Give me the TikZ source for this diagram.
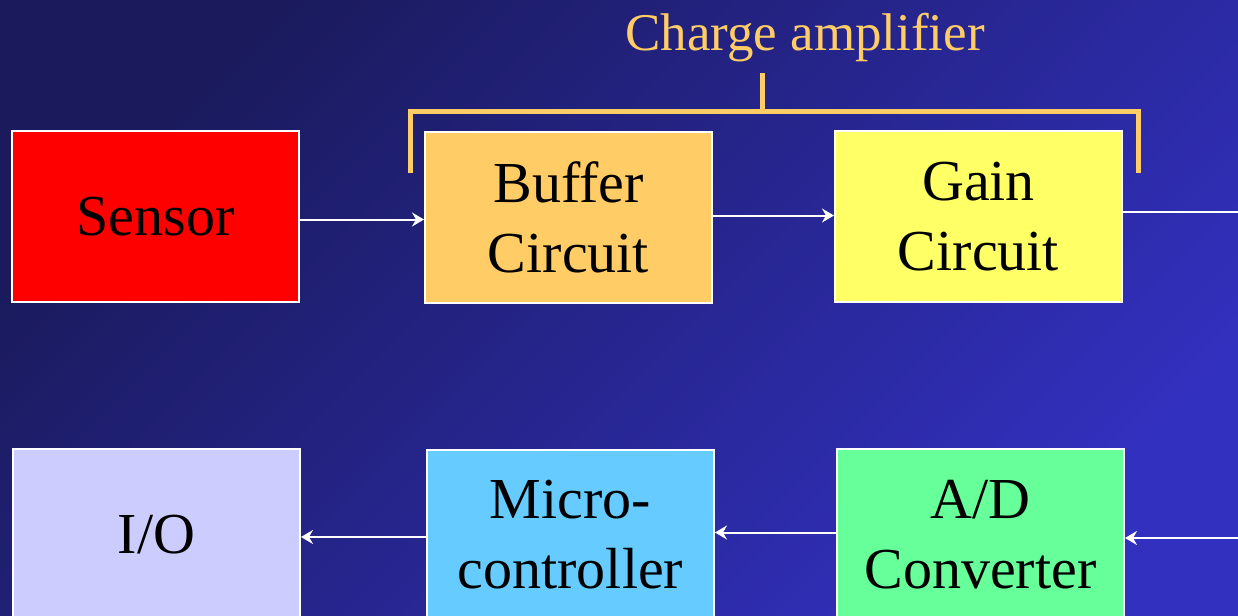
\documentclass[tikz,border=0pt]{standalone}
\usepackage{fontspec}
\setmainfont{Liberation Serif}
\usetikzlibrary{arrows.meta, positioning, calc}
\definecolor{bgdark}{RGB}{26,26,92}
\definecolor{bglight}{RGB}{50,48,190}
\definecolor{amber}{HTML}{FFCC66}
\tikzset{
    blk/.style = {rectangle, draw=white, line width=1pt, minimum width=143.5pt, minimum height=85.5pt,
                  align=center, text=black, font=\fontsize{29pt}{35pt}\selectfont},
    sig/.style = {-{Stealth[length=6pt, width=7pt, inset=2pt]}, white, line width=1pt},
    brace/.style = {amber, line width=2.5pt}
}

\begin{document}
\begin{tikzpicture}[x=0.5pt, y=-0.5pt]
% Background
\useasboundingbox (0,0) rectangle (1238,616);
\clip (0,0) rectangle (1238,616);
\shade[top color=bgdark, bottom color=bglight, shading angle=45] (0,0) rectangle (1238,616);

% Top row
\node[blk, fill=red] (SENS) at (155.5, 216.5) {Sensor};
\node[blk, fill=amber] (BUF) at (568.5, 217.5) {Buffer\\Circuit};
\node[blk, fill={rgb,255:red,255;green,255;blue,102}] (GAIN) at (978.5, 216.5) {Gain\\Circuit};

% Bottom row
\node[blk, fill={rgb,255:red,204;green,204;blue,255}] (IO) at (156.5, 534.5) {I/O};
\node[blk, fill={rgb,255:red,102;green,204;blue,255}] (MCU) at (570.5, 535) {Micro-\\controller};
\node[blk, fill={rgb,255:red,102;green,255;blue,153}] (ADC) at (980.5, 534.5) {A/D\\Converter};

% Charge amplifier bracket
\node[amber, anchor=base, font=\fontsize{26.5pt}{32pt}\selectfont] (CA) at (805, 50) {Charge amplifier};
\draw[brace] (410, 173) -- (410, 111) -- (1138, 111) -- (1138, 173);
\draw[brace] (762, 111) -- (762, 73);

% Off-page ends
\coordinate (GOUT) at (1238, 212);
\coordinate (ADIN) at (1238, 538);

% Signal path
\draw[sig] ([yshift=-1.5pt]SENS.east) -- ([yshift=-1.5pt]SENS.east -| BUF.west);
\draw[sig] ([yshift=1pt]BUF.east) -- ([yshift=1pt]BUF.east -| GAIN.west);
\draw[white, line width=1pt] (GAIN.east |- GOUT) -- (GOUT);
\draw[sig] (ADIN) -- (ADIN -| ADC.east);
\draw[sig] ([yshift=1pt]ADC.west) -- ([yshift=1pt]ADC.west -| MCU.east);
\draw[sig] ([yshift=-1pt]MCU.west) -- ([yshift=-1pt]MCU.west -| IO.east);
\end{tikzpicture}
\end{document}
